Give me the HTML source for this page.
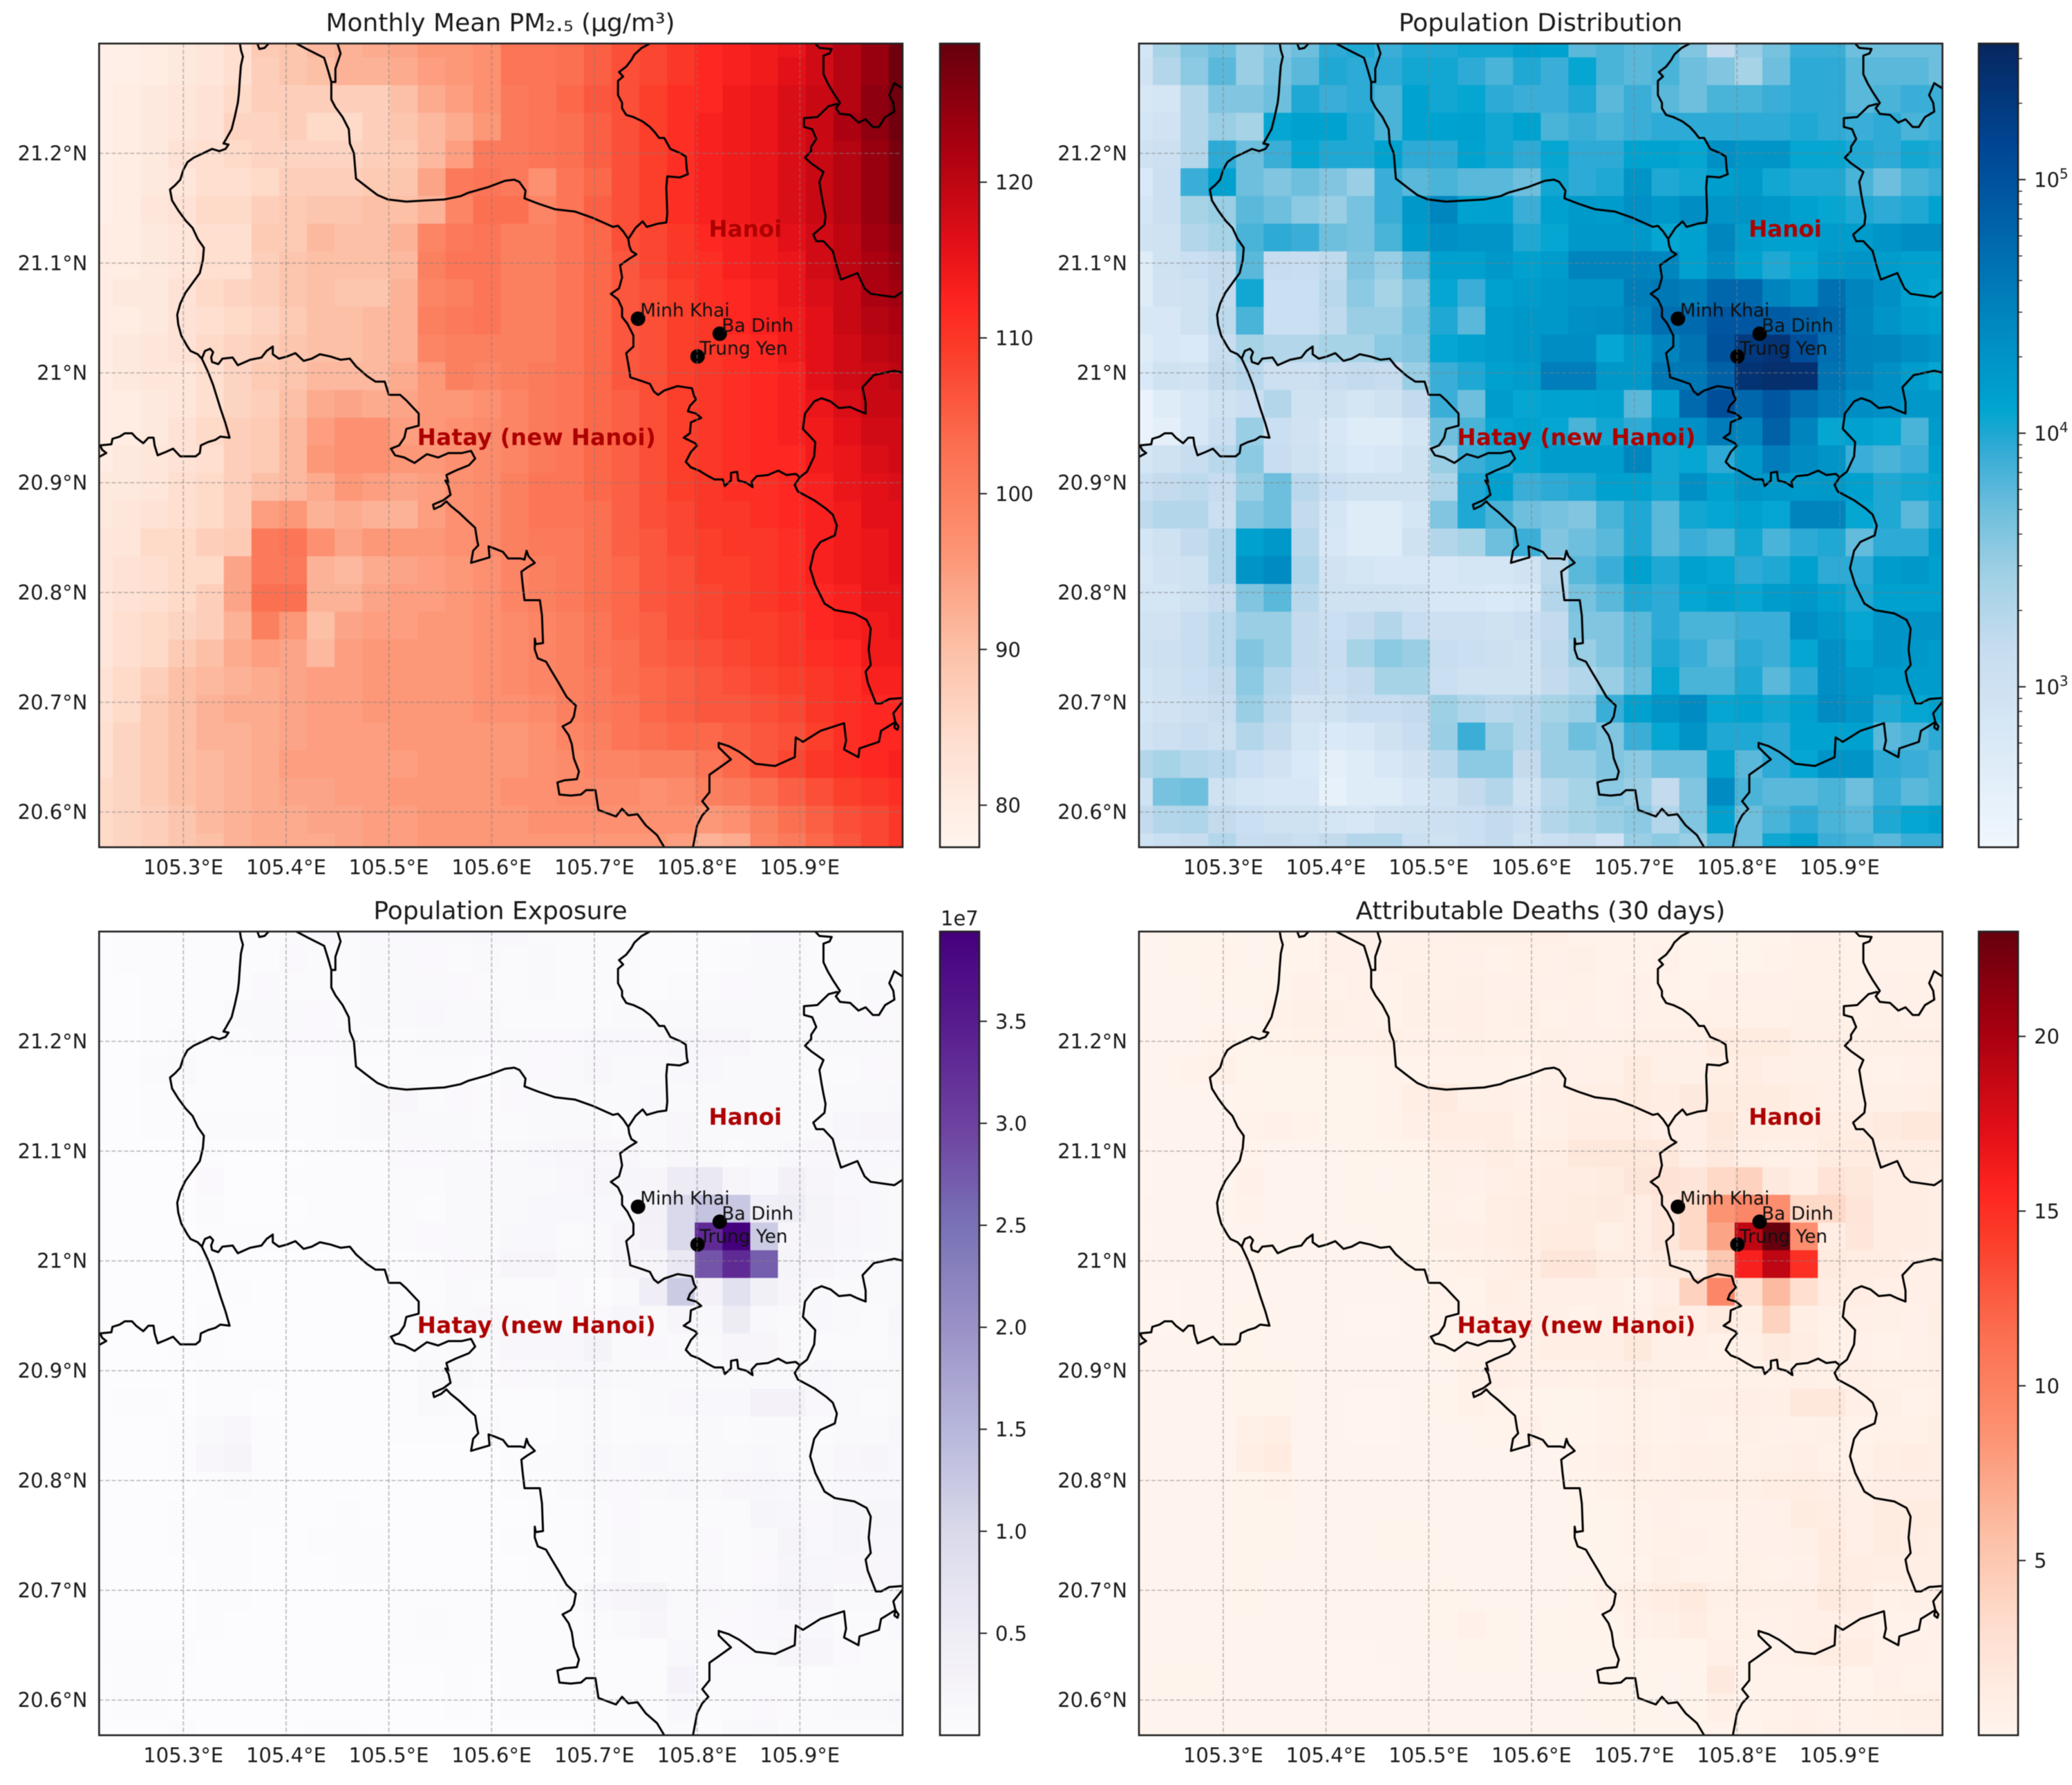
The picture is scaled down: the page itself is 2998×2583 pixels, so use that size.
<!DOCTYPE html>
<html lang="en">
<head>
<meta charset="utf-8">
<title>PM2.5, population, exposure and attributable deaths maps</title>
<style>
html,body{margin:0;padding:0;background:#fff;width:2998px;height:2583px;overflow:hidden}
svg{display:block;filter:blur(.6px)}
text{font-family:"DejaVu Sans","Liberation Sans",sans-serif;fill:#1a1a1a}
.title{font-size:36px;text-anchor:middle}
.tick{font-size:29px}
</style>
</head>
<body>
<svg id="figure" xmlns="http://www.w3.org/2000/svg" width="2998" height="2583" viewBox="0 0 2998 2583">
  <rect x="0" y="0" width="2998" height="2583" fill="#fff"/>
  <g id="panel-pm">
    <text class="title" x="724" y="45">Monthly Mean PM₂.₅ (μg/m³)</text>
  </g>
  <g id="panel-pop">
    <text class="title" x="2229" y="45">Population Distribution</text>
  </g>
  <g id="panel-exp">
    <text class="title" x="724" y="1330">Population Exposure</text>
    <text class="tick" x="1361" y="1339">1e7</text>
  </g>
  <g id="panel-dea">
    <text class="title" x="2229" y="1330">Attributable Deaths (30 days)</text>
  </g>
</svg>
<script>
// ---------- monthly mean PM2.5 (ug/m3), rows north to south, columns west to east ----------
const pmGrid = [
[79,79,80,81,82,84,88,89,91,92,93,94,96,96,97,102,102,103,105,107,108,110,112,113,114,115,118,121,124,128],
[79,79,80,81,82,84,87,89,90,92,92,93,95,96,97,102,102,103,105,107,108,110,112,113,114,116,118,121,124,128],
[79,80,81,82,83,85,87,87,87,87,87,90,93,95,97,101,102,104,106,107,109,111,112,114,115,117,119,121,125,128],
[79,80,81,82,83,86,86,87,85,85,87,89,91,93,96,101,102,103,105,107,109,111,113,114,115,117,119,122,125,128],
[79,80,81,83,84,85,86,86,86,86,87,88,91,95,101,101,102,103,105,107,109,111,113,114,115,117,119,121,124,127],
[79,80,81,82,84,84,85,87,87,87,88,89,94,101,102,101,97,102,104,107,109,111,113,114,115,117,119,121,124,127],
[79,80,82,83,85,85,87,88,89,89,90,90,92,99,103,103,99,102,105,107,109,111,113,114,115,117,119,121,124,127],
[80,80,81,82,84,84,88,88,91,90,90,92,99,101,102,100,100,102,104,107,108,110,112,113,114,116,118,120,123,125],
[80,80,81,82,84,84,87,89,90,90,90,91,100,102,102,100,100,102,104,106,108,110,111,113,114,115,118,120,122,124],
[80,81,81,83,85,86,87,89,90,89,89,92,99,100,102,100,100,102,104,106,107,109,111,112,113,115,117,119,122,123],
[80,80,81,83,84,85,86,88,90,90,91,92,100,101,102,100,100,102,104,106,107,109,110,112,113,114,116,119,121,122],
[80,81,82,83,85,86,87,89,90,90,91,92,99,100,100,100,100,102,104,106,107,109,110,111,112,114,116,118,120,121],
[80,81,82,82,84,86,88,89,91,91,91,93,96,100,99,100,101,102,104,106,107,109,110,111,112,113,116,118,119,120],
[80,80,81,82,84,86,87,90,93,94,93,94,96,96,97,99,101,102,104,105,107,109,110,111,112,113,115,117,119,119],
[80,80,81,83,85,87,88,91,95,97,97,95,96,97,98,99,101,102,104,105,107,109,110,111,112,113,114,116,118,118],
[80,81,82,83,84,87,88,91,96,97,97,96,96,97,98,99,101,102,104,105,107,109,110,111,112,112,114,115,117,118],
[81,81,82,84,85,87,90,91,93,96,95,94,95,97,98,100,102,102,104,105,107,109,110,111,111,112,113,115,116,117],
[81,82,83,84,85,87,95,96,92,93,92,92,95,97,98,100,102,102,103,105,107,108,110,110,111,112,113,114,116,116],
[82,82,85,85,87,88,101,102,97,94,96,96,96,97,98,100,101,101,103,105,106,108,109,110,110,111,113,114,115,116],
[82,83,84,85,85,94,101,101,92,91,93,94,95,96,97,99,100,101,103,104,106,107,109,109,110,111,113,114,115,116],
[82,83,84,85,87,94,103,103,92,92,94,95,95,96,97,99,100,101,103,104,106,107,108,109,110,111,112,113,115,115],
[82,84,85,86,87,92,100,96,90,94,95,95,96,96,97,98,99,100,102,104,105,107,108,109,109,110,112,113,114,115],
[82,84,85,88,90,93,95,94,91,95,96,96,96,96,97,98,99,100,102,103,105,106,107,108,109,110,111,112,114,114],
[83,85,87,90,91,92,93,94,95,95,96,96,96,96,97,98,99,100,101,103,104,105,106,107,108,109,110,111,113,113],
[83,85,88,90,92,93,93,94,95,95,96,96,96,96,97,97,98,100,101,102,104,105,106,106,107,108,110,111,112,112],
[84,86,88,90,92,92,93,94,95,95,95,96,96,96,96,96,97,99,100,102,103,104,104,105,106,107,109,111,112,112],
[84,86,88,90,91,92,93,95,95,95,95,95,96,96,96,96,97,98,99,99,100,100,102,104,106,108,110,111,112,113],
[85,86,88,90,91,92,93,94,94,95,95,96,96,96,96,97,97,98,98,98,97,98,100,101,103,105,107,109,110,111],
[85,86,87,89,91,92,93,93,94,94,95,95,96,96,96,96,97,97,97,97,97,97,96,97,100,103,105,107,108,110],
[85,86,87,89,90,92,93,93,93,94,95,95,96,96,96,96,96,96,96,96,96,95,92,93,99,101,104,106,108,110]
];
// ---------- population per cell, thousands ----------
const popGrid = [
[.8,2.5,4,5,3,4,5,9,10,8,10,10,11,11,14,13,6,7,6,7,4,1.5,3,4.5,8,8,5,5,5,5],
[.9,2,3.5,6,3,4.5,6,10,9,9,11,11,9,7,10,8,12,7,6,7,5,4,2.5,5,9,9,6,6,6,5],
[.7,.8,2,4,4,5,10,8,9,7,13,11,12,9,8,8,10,6,8,6,5,7,7,8,9,9,6,7,8,8],
[.8,.9,2,3,2.5,12,14,13,10,7,13,13,14,11,13,7,8,7,8,9,9,9,9,9,10,9,8,9,7,8],
[1,1.1,2,9,5,8,12,10,10,13,9,9,13,11,9,12,9,9,13,13,12,22,19,20,12,12,10,9,11,10],
[.6,1.2,8,14,5,4,5,4,3,8,6,7,6,6,5,11,9,10,20,10,11,15,17,11,10,10,7,5,7,8],
[.8,1.2,2.5,3,6,5,3.5,3,4.5,8,18,28,13,14,8,14,17,16,22,18,24,20,20,18,14,12,10,9,10,13],
[.9,1,2,2.5,7,9,8,5,4.5,7,16,22,20,20,10,12,18,18,18,12,14,28,16,14,14,16,16,20,24,24],
[.5,1,1.2,1.5,6,1.4,1.3,1.6,4,3,6,14,14,18,14,16,30,30,30,28,14,24,14,10,12,18,20,16,14,14],
[.5,.9,1,1.5,11,1.2,1.2,1.8,3.5,2.5,4,12,8,14,16,18,20,20,34,40,34,60,60,30,22,48,30,22,14,12],
[.7,.7,1,1.7,7,1.2,1.2,1.6,3,3,4.5,10,6,16,18,18,22,24,30,50,55,90,90,80,70,60,28,20,16,14],
[.5,.7,.6,1.3,2.5,2,2,2.5,2.5,3.5,4,12,14,16,18,24,24,12,18,30,45,100,200,230,110,50,30,28,24,20],
[.6,1,.9,1.5,1.8,1.1,1.1,1.3,1.5,1.4,3,8,10,14,16,35,35,18,18,40,40,70,240,270,260,45,30,22,16,12],
[.3,.5,.7,1,1.2,2,1,1,.8,1,1.5,8,5,16,12,13,13,14,6,14,55,110,60,90,50,35,24,22,18,18],
[.3,.4,.7,1.2,3,1.2,.9,.7,.5,.5,.8,5,7,12,13,12,7,11,9,20,22,35,30,70,30,12,14,12,7,16],
[.8,1,1.3,1.8,3.5,1.3,1,.8,.6,.7,1,3,8,10,12,16,16,16,28,11,12,9,18,35,25,20,8,7,8,14],
[1.2,1.5,1.7,1.4,3,5,1.8,1.2,1,1,1,2.2,10,14,8,9,10,14,14,11,22,14,20,18,17,18,14,10,11,12],
[1.6,2,2,1.2,4,5,1.5,.8,.5,.5,.8,4,10,7,5,4.5,4,7,10,6,11,12,14,12,30,30,12,10,6,10],
[.8,1,1.5,2,14,18,1.8,.7,.5,.5,1,2,2.5,5,8,4,5,6,10,6,8,7,11,7,9,10,5.5,9,9,16],
[.7,.9,1,2,20,25,2.2,.9,.8,.7,.7,.7,.8,.8,.9,1.8,6,8,14,10,14,12,9,10,14,9,9,16,18,14],
[.8,.8,1,1.4,4,6,1.8,1,1,1,.9,.7,.7,.6,.7,2,4.5,6,10,9,12,14,12,16,18,14,10,14,14,14],
[.9,.9,1.3,1.8,3,3,1.5,1.2,1.5,2,1.3,1.1,1.1,1,1.2,1.5,4,4,6,9,7,7,8,8,22,18,12,20,20,20],
[1,1.1,1.3,1.8,4,3,1.5,1.3,2.5,3.5,3,1.3,1.2,1.1,1,1.6,3,4,6,10,8,6,9,8,12,22,13,20,18,16],
[.8,1,1.2,1.5,3.5,2,1.4,1.2,1.5,2.5,2.5,1.2,1,1,1,1.5,2,3,5,12,7,7,10,6,9,22,18,16,16,16],
[.8,.9,1.1,1.3,3,1.8,.9,1,1.3,1.3,1.5,2.8,2.2,1.8,2,2.5,3,8,14,20,25,12,13,11,14,25,20,10,12,14],
[.9,1.1,1.3,1.1,2,1.5,.8,.6,.7,1,1.3,3,8,3,2,3,5,4,8,12,20,10,10,9,13,13,14,6,7,9],
[2,2.5,2,1.8,1.2,.9,.6,.4,.5,.7,.9,1.8,3.5,3.5,1.5,3,3,4,3.5,5,5,14,6,9,12,20,20,9,8,7],
[1,4.5,5,1,.8,.7,.7,.35,.5,.5,.7,1,1.5,2,1,1.8,2.5,3.5,3,1.5,4,25,7,6,6,7,5,8,6,7],
[1.5,2,2.2,1.5,1.2,1,1,.8,.7,.9,1,1.1,1.2,1.5,1.2,2,2.5,3,3.5,2,4,14,5,7,9,7,6,10,12,14],
[1,1.2,1.4,2,1.3,1.4,1.2,1.5,2,2,1.2,1,1.2,1.5,1,1.2,1.5,.9,3,3.5,3,6,5,11,14,8,7,6,8,8]
];
// ---------- population exposure per cell, units of 1e5 ----------
const exposureGrid = [
[1,2,3,4,2,3,4,8,9,7,9,9,11,11,14,13,6,7,6,7,4,2,3,5,9,9,6,6,6,6],
[1,2,3,5,2,4,5,9,8,8,10,10,9,7,10,8,12,7,6,8,5,4,3,6,10,10,7,7,7,6],
[1,1,2,3,3,4,9,7,8,6,11,10,11,9,8,8,10,6,8,6,5,8,8,9,10,10,7,8,10,10],
[1,1,2,2,2,10,12,11,9,6,11,12,13,10,12,7,8,7,8,10,10,10,10,10,11,11,10,11,9,10],
[1,1,2,7,4,7,10,9,9,11,8,8,12,10,9,12,9,9,14,14,13,18,16,16,12,12,11,10,12,12],
[1,1,6,11,4,3,4,3,3,7,5,6,6,6,5,11,9,10,16,10,11,14,15,12,11,11,8,6,9,10],
[1,1,2,2,5,4,3,3,4,7,12,16,8,9,6,9,10,10,12,10,14,12,12,12,10,10,10,10,12,15],
[1,1,2,2,6,8,7,4,4,6,10,12,12,12,7,8,10,10,10,8,10,16,12,10,10,12,12,18,20,20],
[0,1,1,1,5,1,1,1,4,3,5,9,9,11,9,10,15,16,16,16,10,16,10,8,10,14,16,15,14,14],
[0,1,1,1,9,1,1,2,3,2,4,8,6,10,11,12,12,13,20,22,20,55,60,20,15,35,20,15,14,12],
[1,1,1,1,6,1,1,1,3,3,4,7,5,10,12,12,14,15,14,15,35,100,130,125,45,50,25,16,14,12],
[0,1,1,1,2,2,2,2,2,3,4,8,9,10,12,15,15,8,12,20,30,100,330,394,120,20,25,18,14,12],
[1,1,1,1,2,1,1,1,1,1,3,5,7,9,10,20,20,11,12,20,20,60,280,330,270,25,20,14,10,9],
[0,0,1,1,1,2,1,1,1,1,1,5,4,10,8,8,8,9,5,10,50,120,30,80,40,20,14,10,10,10],
[0,0,1,1,3,1,1,1,0,0,1,5,7,12,13,12,7,11,9,21,10,20,15,55,15,10,14,12,8,16],
[1,1,1,2,3,1,1,1,1,1,1,3,8,10,12,16,16,16,29,12,13,10,10,20,20,10,8,7,8,14],
[1,1,1,1,3,4,2,1,1,1,1,2,10,14,8,9,10,14,15,12,10,10,10,10,12,10,14,10,10,12],
[1,2,2,1,3,4,1,1,0,0,1,4,10,7,5,4,4,7,10,6,12,13,15,14,32,32,13,11,7,10],
[1,1,1,2,12,16,2,1,0,0,1,2,2,5,8,4,5,6,10,6,8,7,12,8,10,11,6,10,10,16],
[1,1,1,2,17,24,2,1,1,1,1,1,1,1,1,2,6,8,14,10,14,12,10,11,15,10,10,17,20,15],
[1,1,1,1,3,6,2,1,1,1,1,1,1,1,1,2,5,6,10,9,12,14,12,16,19,15,11,15,15,15],
[1,1,1,2,3,3,2,1,1,2,1,1,1,1,1,1,4,4,6,9,7,7,8,8,22,19,13,21,22,22],
[1,1,1,2,4,3,1,1,2,3,3,1,1,1,1,2,3,4,6,10,8,6,9,8,12,23,14,21,19,17],
[1,1,1,1,3,2,1,1,1,2,2,1,1,1,1,1,2,3,5,12,7,7,10,6,9,22,18,16,16,16],
[1,1,1,1,3,2,1,1,1,1,1,3,2,2,2,2,3,8,14,20,25,12,13,11,14,25,20,10,12,14],
[1,1,1,1,2,1,1,1,1,1,1,3,8,3,2,3,5,4,8,12,20,10,10,9,13,13,14,6,7,9],
[2,2,2,2,1,1,1,0,0,1,1,2,3,3,2,3,3,4,4,5,5,14,6,9,12,20,20,9,8,7],
[1,4,4,1,1,1,1,0,0,0,1,1,1,2,1,2,2,4,3,2,4,27,7,6,6,7,5,8,6,7],
[1,2,2,1,1,1,1,1,1,1,1,1,1,2,1,2,2,3,3,2,4,14,5,7,9,7,6,10,12,14],
[1,1,1,2,1,1,1,1,2,2,1,1,1,1,1,1,1,1,3,3,3,6,5,11,14,8,7,6,8,8]
];
// ---------- attributable deaths per cell ----------
const deathsGrid = [
[.1,.1,.2,.2,.1,.2,.2,.5,.5,.4,.5,.5,.7,.7,.8,.8,.4,.4,.4,.4,.2,.1,.2,.3,.5,.5,.4,.4,.4,.4],
[.1,.1,.2,.3,.1,.2,.3,.5,.5,.5,.6,.6,.5,.4,.6,.5,.7,.4,.4,.5,.3,.2,.2,.4,.6,.6,.4,.4,.4,.4],
[.1,.1,.1,.2,.2,.2,.5,.4,.5,.4,.7,.6,.7,.5,.5,.5,.6,.4,.5,.4,.3,.5,.5,.5,.6,.6,.4,.5,.6,.6],
[.1,.1,.1,.1,.1,.6,.7,.7,.5,.4,.7,.7,.8,.6,.7,.4,.5,.4,.5,.6,.6,.6,.6,.6,.7,.7,.6,.7,.5,.6],
[.1,.1,.1,.4,.2,.4,.6,.5,.5,.7,.5,.5,.7,.6,.5,.7,.5,.5,.8,.8,.8,1.4,1.3,1.3,.8,.8,.7,.7,.8,.8],
[.1,.1,.4,.7,.2,.2,.2,.2,.2,.4,.3,.4,.4,.4,.3,.7,.5,.6,1.3,.7,.7,1,1.1,.8,.7,.7,.5,.4,.5,.6],
[.1,.1,.1,.1,.3,.2,.2,.2,.2,.4,1,1.5,.7,.8,.5,.8,1,1,1.4,1.1,1.6,1.3,1.3,1.3,1,.8,.7,.7,.8,1],
[.1,.1,.1,.1,.4,.5,.4,.2,.2,.4,.8,1.2,1.2,1.2,.6,.7,1.1,1.1,1.1,.8,.9,1.9,1.1,1,1,1.1,1.1,1.5,1.8,1.8],
[0,.1,.1,.1,.3,.1,.1,.1,.2,.2,.3,.8,.8,1.1,.8,1,1.8,1.9,1.9,1.8,.9,1.6,1,.7,.8,1.3,1.4,1.2,1.1,1.1],
[0,.1,.1,.1,.5,.1,.1,.1,.2,.1,.2,.7,.5,.8,1,1.1,1.2,1.3,2.2,2.6,2.2,3.5,4,1.6,1,2.5,1.8,1.1,1.1,.9],
[.1,.1,.1,.1,.4,.1,.1,.1,.2,.2,.2,.5,.4,1,1.1,1.1,1.3,1.5,1.2,2,3.5,8.5,9.5,9,3.5,3.5,2.2,1.2,1.1,.9],
[0,.1,.1,.1,.1,.1,.1,.1,.1,.2,.2,.7,.8,1,1.1,1.4,1.4,.7,1.1,2,3.5,7.5,19,23,9,1.2,2,1.2,1.1,.9],
[.1,.1,.1,.1,.1,.1,.1,.1,.1,.1,.2,.4,.6,.8,1,2.1,2.1,1.1,1.1,1.5,1.5,5,16,19,15,1.5,1.2,1.1,.8,.7],
[0,0,.1,.1,.1,.1,.1,.1,.1,.1,.1,.4,.3,1,.7,.8,.8,.8,.4,.9,4,9.5,3,6,3,1.2,1.1,.8,.8,.8],
[0,0,.1,.1,.2,.1,.1,.1,0,0,.1,.3,.4,.7,.8,.7,.4,.7,.5,1.3,.9,1.5,1,4,1,.6,.8,.7,.5,1],
[.1,.1,.1,.1,.2,.1,.1,.1,.1,.1,.1,.2,.5,.6,.7,1,1,1,1.7,.7,.8,.6,.7,1.5,1.2,.6,.5,.4,.5,.8],
[.1,.1,.1,.1,.2,.2,.1,.1,.1,.1,.1,.1,.6,.8,.5,.5,.6,.8,.9,.7,.6,.6,.6,.6,.7,.6,.8,.6,.6,.7],
[.1,.1,.1,.1,.2,.2,.1,.1,0,0,.1,.2,.6,.4,.3,.2,.2,.4,.6,.4,.7,.8,.9,.8,1.9,1.9,.8,.7,.4,.6],
[.1,.1,.1,.1,.7,1,.1,.1,0,0,.1,.1,.1,.3,.5,.2,.3,.4,.6,.4,.5,.4,.7,.5,.6,.7,.4,.6,.6,1],
[.1,.1,.1,.1,1,1.4,.1,.1,.1,.1,.1,.1,.1,.1,.1,.1,.4,.5,.8,.6,.8,.7,.6,.7,.9,.6,.6,1,1.2,.9],
[.1,.1,.1,.1,.2,.4,.1,.1,.1,.1,.1,.1,.1,.1,.1,.1,.3,.4,.6,.5,.7,.8,.7,1,1.1,.9,.7,.9,.9,.9],
[.1,.1,.1,.1,.2,.2,.1,.1,.1,.1,.1,.1,.1,.1,.1,.1,.2,.2,.4,.5,.4,.4,.5,.5,1.3,1.1,.8,1.3,1.3,1.3],
[.1,.1,.1,.1,.2,.2,.1,.1,.1,.2,.2,.1,.1,.1,.1,.1,.2,.2,.4,.6,.5,.4,.5,.5,.7,1.4,.8,1.3,1.1,1],
[.1,.1,.1,.1,.2,.1,.1,.1,.1,.1,.1,.1,.1,.1,.1,.1,.1,.2,.3,.7,.4,.4,.6,.4,.5,1.3,1.1,1,1,1],
[.1,.1,.1,.1,.2,.1,.1,.1,.1,.1,.1,.2,.1,.1,.1,.1,.2,.5,.8,1.2,1.5,.7,.8,.7,.8,1.5,1.2,.6,.7,.8],
[.1,.1,.1,.1,.1,.1,.1,.1,.1,.1,.1,.2,.5,.2,.1,.2,.3,.2,.5,.7,1.2,.6,.6,.5,.8,.8,.8,.4,.4,.5],
[.1,.1,.1,.1,.1,.1,.1,0,0,.1,.1,.1,.2,.2,.1,.2,.2,.2,.2,.3,.3,.8,.4,.5,.7,1.2,1.2,.5,.5,.4],
[.1,.2,.2,.1,.1,.1,.1,0,0,0,.1,.1,.1,.1,.1,.1,.1,.2,.2,.1,.2,1.6,.4,.4,.4,.4,.3,.5,.4,.4],
[.1,.1,.1,.1,.1,.1,.1,.1,.1,.1,.1,.1,.1,.1,.1,.1,.1,.2,.2,.1,.2,.8,.3,.4,.5,.4,.4,.6,.7,.8],
[.1,.1,.1,.1,.1,.1,.1,.1,.1,.1,.1,.1,.1,.1,.1,.1,.1,.1,.2,.2,.2,.3,.3,.6,.8,.5,.4,.4,.5,.5]
];

// ---------- axis ticks and labels ----------
const lonTicks = [105.3,105.4,105.5,105.6,105.7,105.8,105.9];
const latTicks = [21.2,21.1,21.0,20.9,20.8,20.7,20.6];
const latTickLabels = ['21.2°N','21.1°N','21°N','20.9°N','20.8°N','20.7°N','20.6°N'];
const pmColorTicks = [80,90,100,110,120];
const popMajorTicks = [1000,10000,100000];
const popMajorExponents = ['3','4','5'];
const popMinorTicks = [300,400,500,600,700,800,900,2000,3000,4000,5000,6000,7000,8000,9000,20000,30000,40000,50000,60000,70000,80000,90000,200000,300000];
const expColorTicks = [50,100,150,200,250,300,350];
const expColorLabels = ['0.5','1.0','1.5','2.0','2.5','3.0','3.5'];
const deathColorTicks = [5,10,15,20];

// ---------- place names ----------
const stationNames = ['Minh Khai','Ba Dinh','Trung Yen'];
const stationLons = [105.7425,105.822,105.8004];
const stationLats = [21.0494,21.0357,21.015];
const regionNames = ['Hanoi','Hatay (new Hanoi)'];
const regionLons = [105.8113,105.5277];
const regionLats = [21.124,20.9344];

// ---------- administrative boundaries, [lon, lat] ----------
const boundaries = [
[[105.355,21.300],[105.356,21.294],[105.358,21.288],[105.356,21.280],[105.355,21.268],[105.354,21.254],[105.353,21.246],[105.350,21.233],[105.347,21.222],[105.341,21.212],[105.339,21.209],[105.344,21.208],[105.341,21.204],[105.335,21.202],[105.328,21.204],[105.319,21.200],[105.310,21.196],[105.304,21.192],[105.300,21.185],[105.297,21.176],[105.292,21.171],[105.287,21.167],[105.289,21.157],[105.295,21.148],[105.302,21.139],[105.309,21.132],[105.314,21.122],[105.320,21.114],[105.319,21.103],[105.316,21.091],[105.309,21.082],[105.302,21.073],[105.297,21.063],[105.294,21.053],[105.295,21.044],[105.298,21.034],[105.304,21.024],[105.307,21.020],[105.314,21.017],[105.318,21.013],[105.324,21.001],[105.329,20.989],[105.336,20.968],[105.341,20.954],[105.345,20.941],[105.336,20.942],[105.331,20.939],[105.324,20.937],[105.317,20.934],[105.316,20.927],[105.312,20.924],[105.297,20.924],[105.290,20.931],[105.283,20.928],[105.275,20.925],[105.272,20.934],[105.271,20.941],[105.266,20.941],[105.261,20.936],[105.254,20.941],[105.250,20.945],[105.243,20.945],[105.238,20.942],[105.231,20.940],[105.230,20.935],[105.219,20.934],[105.221,20.930],[105.225,20.927],[105.219,20.924]],
[[105.318,21.013],[105.321,21.020],[105.326,21.022],[105.329,21.019],[105.327,21.014],[105.328,21.010],[105.334,21.008],[105.338,21.013],[105.348,21.014],[105.353,21.007],[105.365,21.012],[105.376,21.014],[105.381,21.020],[105.387,21.024],[105.387,21.017],[105.393,21.013],[105.401,21.015],[105.409,21.018],[105.417,21.011],[105.425,21.013],[105.433,21.017],[105.443,21.015],[105.453,21.012],[105.462,21.013],[105.468,21.006],[105.479,20.997],[105.487,20.992],[105.496,20.992],[105.500,20.980],[105.511,20.980],[105.517,20.975],[105.523,20.969],[105.529,20.963],[105.529,20.952],[105.517,20.949],[105.515,20.941],[105.510,20.934],[105.502,20.931],[105.506,20.925],[105.515,20.923],[105.525,20.918],[105.537,20.926],[105.548,20.923],[105.558,20.927],[105.571,20.927],[105.580,20.929],[105.584,20.922],[105.578,20.916],[105.565,20.911],[105.556,20.907],[105.558,20.900],[105.555,20.902],[105.558,20.897],[105.560,20.889],[105.553,20.884],[105.543,20.880],[105.544,20.876],[105.551,20.879],[105.556,20.883],[105.560,20.879],[105.568,20.873],[105.577,20.865],[105.584,20.859],[105.586,20.847],[105.587,20.843],[105.582,20.838],[105.580,20.827],[105.587,20.829],[105.598,20.832],[105.597,20.842],[105.603,20.840],[105.611,20.837],[105.616,20.831],[105.628,20.831],[105.632,20.830],[105.634,20.838],[105.636,20.833],[105.642,20.827],[105.635,20.823],[105.629,20.819],[105.630,20.809],[105.632,20.793],[105.647,20.793],[105.649,20.779],[105.650,20.754],[105.643,20.753],[105.642,20.758],[105.642,20.748],[105.645,20.740],[105.653,20.737],[105.658,20.729],[105.665,20.718],[105.673,20.705],[105.682,20.697],[105.680,20.687],[105.677,20.682],[105.669,20.678],[105.675,20.670],[105.678,20.662],[105.680,20.649],[105.685,20.637],[105.683,20.630],[105.671,20.629],[105.664,20.627],[105.666,20.616],[105.677,20.615],[105.687,20.616],[105.692,20.620],[105.701,20.620],[105.704,20.602],[105.721,20.596],[105.727,20.603],[105.733,20.597],[105.742,20.598],[105.750,20.588],[105.761,20.579],[105.768,20.568]],
[[105.754,21.300],[105.746,21.296],[105.739,21.290],[105.736,21.285],[105.731,21.279],[105.724,21.274],[105.728,21.270],[105.723,21.266],[105.723,21.253],[105.727,21.246],[105.727,21.241],[105.731,21.235],[105.738,21.233],[105.747,21.229],[105.754,21.224],[105.759,21.219],[105.763,21.214],[105.768,21.214],[105.774,21.204],[105.784,21.200],[105.789,21.197],[105.790,21.185],[105.791,21.181],[105.783,21.178],[105.771,21.179],[105.770,21.169],[105.771,21.145],[105.770,21.137],[105.762,21.136],[105.751,21.133],[105.747,21.138],[105.740,21.132],[105.733,21.122]],
[[105.410,21.300],[105.420,21.295],[105.437,21.287],[105.441,21.275],[105.444,21.265],[105.448,21.265],[105.448,21.277],[105.453,21.291],[105.450,21.300]],
[[105.444,21.265],[105.444,21.249],[105.448,21.242],[105.455,21.233],[105.461,21.222],[105.462,21.209],[105.466,21.200],[105.468,21.177],[105.479,21.169],[105.489,21.162],[105.499,21.158],[105.517,21.156],[105.534,21.157],[105.554,21.158],[105.570,21.161],[105.577,21.164],[105.596,21.169],[105.613,21.175],[105.622,21.176],[105.627,21.174],[105.633,21.166],[105.632,21.159],[105.646,21.154],[105.662,21.149],[105.681,21.147],[105.699,21.141],[105.718,21.133],[105.723,21.134],[105.728,21.129],[105.733,21.122]],
[[105.733,21.122],[105.734,21.116],[105.736,21.111],[105.741,21.108],[105.734,21.104],[105.725,21.098],[105.727,21.087],[105.724,21.077],[105.716,21.072],[105.723,21.067],[105.727,21.059],[105.727,21.051],[105.732,21.045],[105.738,21.034],[105.738,21.024],[105.731,21.018],[105.734,21.003],[105.735,20.996],[105.745,20.993],[105.754,20.990],[105.758,20.983],[105.762,20.980],[105.768,20.984],[105.781,20.988],[105.788,20.987],[105.795,20.986],[105.797,20.979],[105.799,20.976],[105.793,20.970],[105.791,20.965],[105.799,20.963],[105.804,20.959],[105.794,20.955],[105.793,20.945],[105.787,20.941],[105.798,20.936],[105.800,20.934],[105.794,20.928],[105.789,20.919],[105.794,20.914],[105.802,20.911],[105.809,20.907],[105.817,20.903],[105.825,20.903],[105.827,20.897],[105.833,20.902],[105.833,20.909],[105.839,20.910],[105.840,20.902],[105.848,20.900],[105.854,20.896],[105.853,20.901],[105.858,20.906],[105.869,20.907],[105.879,20.911],[105.887,20.907],[105.896,20.908],[105.900,20.905]],
[[105.900,20.905],[105.895,20.898],[105.898,20.892],[105.914,20.884],[105.926,20.876],[105.932,20.871],[105.936,20.861],[105.934,20.852],[105.920,20.846],[105.914,20.838],[105.910,20.822],[105.915,20.807],[105.924,20.790],[105.934,20.784],[105.953,20.781],[105.965,20.775],[105.969,20.767],[105.967,20.748],[105.969,20.734],[105.964,20.728],[105.966,20.718],[105.974,20.699],[105.979,20.699],[105.987,20.703],[106.001,20.704]],
[[105.900,20.905],[105.907,20.910],[105.914,20.924],[105.915,20.937],[105.909,20.943],[105.903,20.949],[105.905,20.963],[105.914,20.974],[105.921,20.977],[105.930,20.974],[105.938,20.968],[105.949,20.969],[105.956,20.966],[105.964,20.963],[105.964,20.973],[105.961,20.987],[105.972,20.998],[105.982,21.000],[105.992,21.002],[106.001,21.000]],
[[105.915,21.300],[105.919,21.296],[105.931,21.295],[105.929,21.291],[105.923,21.289],[105.923,21.272],[105.927,21.264],[105.932,21.256],[105.939,21.246],[105.935,21.241],[105.939,21.236],[105.949,21.235],[105.957,21.228],[105.964,21.231],[105.971,21.224],[105.977,21.224],[105.983,21.233],[105.992,21.238],[105.991,21.246],[105.987,21.253],[105.992,21.264],[106.000,21.259]],
[[105.936,21.245],[105.928,21.243],[105.917,21.233],[105.904,21.232],[105.904,21.224],[105.912,21.222],[105.916,21.213],[105.911,21.206],[105.911,21.202],[105.905,21.196],[105.911,21.191],[105.923,21.183],[105.919,21.174],[105.921,21.162],[105.923,21.152],[105.925,21.143],[105.924,21.135],[105.913,21.126],[105.916,21.120],[105.923,21.120],[105.932,21.111],[105.936,21.097],[105.940,21.085],[105.956,21.091],[105.963,21.077],[105.969,21.072],[105.992,21.069],[106.000,21.074]],
[[106.001,20.702],[105.997,20.697],[105.991,20.690],[105.993,20.682],[105.979,20.674],[105.977,20.664],[105.958,20.658],[105.957,20.650],[105.943,20.657],[105.945,20.665],[105.943,20.681],[105.920,20.674],[105.903,20.664],[105.896,20.668],[105.895,20.650],[105.876,20.642],[105.857,20.644],[105.841,20.655],[105.831,20.660],[105.821,20.663],[105.821,20.659],[105.833,20.648],[105.821,20.640],[105.812,20.634],[105.812,20.618],[105.805,20.610],[105.811,20.603],[105.805,20.597],[105.800,20.588],[105.796,20.568]],
[[105.372,21.300],[105.374,21.295],[105.379,21.296],[105.383,21.300]],
[[105.993,20.682],[105.996,20.678],[105.995,20.675],[105.992,20.677],[105.993,20.682]],
[[106.000,21.009],[106.000,21.000]]
];

// ---------- colormaps ----------
const redsStops = [[0,'#fff5ee'],[.125,'#fee0d2'],[.25,'#fcbfa5'],[.375,'#fc9272'],[.5,'#fb6f50'],[.625,'#fb3a28'],[.68,'#fe2420'],[.75,'#e31018'],[.875,'#a80010'],[1,'#67000d']];
const bluesStops = [[0,'#f0f7fd'],[.125,'#dbeaf7'],[.25,'#c6dcef'],[.33,'#a5d2e6'],[.42,'#6ebfdd'],[.5,'#2eaad5'],[.545,'#00a5d0'],[.625,'#0090c5'],[.75,'#006aae'],[.875,'#004594'],[1,'#07275f']];
const purplesStops = [[0,'#fcfbfd'],[.125,'#efedf5'],[.25,'#dadaeb'],[.375,'#b8b8dc'],[.5,'#9c94c8'],[.63,'#7a74b8'],[.75,'#6f45a2'],[.875,'#5a1f90'],[1,'#45007d']];

const NS = 'http://www.w3.org/2000/svg';
const lonMin = 105.218, lonMax = 106.0, latMin = 20.568, latMax = 21.3;
const panelW = 1162.6, panelH = 1163, cbW = 57;

function mk(tag, attrs, parent){
  const e = document.createElementNS(NS, tag);
  for (const k in attrs) e.setAttribute(k, attrs[k]);
  parent.appendChild(e);
  return e;
}
function hexRgb(h){ return [parseInt(h.slice(1,3),16),parseInt(h.slice(3,5),16),parseInt(h.slice(5,7),16)]; }
function cmap(stops, t){
  t = Math.max(0, Math.min(1, t));
  for (let i = 1; i < stops.length; i++){
    if (t <= stops[i][0]){
      const a = stops[i-1], b = stops[i], f = (t-a[0])/(b[0]-a[0]);
      const A = hexRgb(a[1]), B = hexRgb(b[1]);
      return 'rgb(' + A.map((v,k)=>Math.round(v+(B[k]-v)*f)).join(',') + ')';
    }
  }
  return stops[stops.length-1][1];
}
function linearNorm(a,b){ return v => (v-a)/(b-a); }
function logNorm(a,b){ const la=Math.log10(a), lb=Math.log10(b); return v => (Math.log10(v)-la)/(lb-la); }

const panelDefs = [
  {key:'pm',  id:'panel-pm',  x0:143.4, y0:63,   cbX:1360, grid:pmGrid, unit:1, stops:redsStops, norm:linearNorm(77.3,128.9), ticks:pmColorTicks, labels:pmColorTicks.map(String)},
  {key:'pop', id:'panel-pop', x0:1648,  y0:63,   cbX:2863, grid:popGrid, unit:1000, stops:bluesStops, norm:logNorm(233,344000), ticks:popMajorTicks, labels:null, minor:popMinorTicks},
  {key:'exp', id:'panel-exp', x0:143.4, y0:1348, cbX:1360, grid:exposureGrid, unit:1, stops:purplesStops, norm:linearNorm(0,394), ticks:expColorTicks, labels:expColorLabels},
  {key:'dea', id:'panel-dea', x0:1648,  y0:1348, cbX:2863, grid:deathsGrid, unit:1, stops:redsStops, norm:linearNorm(0,23), ticks:deathColorTicks, labels:deathColorTicks.map(String)}
];

const defs = mk('defs', {}, document.getElementById('figure'));

panelDefs.forEach(p => {
  const g = document.getElementById(p.id);
  const xS = lon => p.x0 + (lon-lonMin)/(lonMax-lonMin)*panelW;
  const yS = lat => p.y0 + (latMax-lat)/(latMax-latMin)*panelH;
  const clip = mk('clipPath', {id:'clip-'+p.key}, defs);
  mk('rect', {x:p.x0, y:p.y0, width:panelW, height:panelH}, clip);

  // heatmap cells
  const body = mk('g', {'clip-path':'url(#clip-'+p.key+')'}, g);
  
  
  const nRows = p.grid.length, nCols = p.grid[0].length;
  const dLon = (lonMax-lonMin)/(nCols-1), dLat = (latMax-latMin)/(nRows-1);
  p.grid.forEach((row, j) => {
    row.forEach((val, i) => {
      const lon = lonMin + i*dLon, lat = latMax - j*dLat;
      const x1 = xS(lon-dLon/2), x2 = xS(lon+dLon/2), y1 = yS(lat+dLat/2), y2 = yS(lat-dLat/2);
      const cell = mk('rect', {x:x1.toFixed(2), y:y1.toFixed(2), width:(x2-x1+.6).toFixed(2), height:(y2-y1+.6).toFixed(2), fill:cmap(p.stops, p.norm(val*p.unit))}, body);
      
      
    });
  });

  // boundaries
  boundaries.forEach(line => {
    const d = line.map((pt,k)=>(k?'L':'M')+xS(pt[0]).toFixed(1)+' '+yS(pt[1]).toFixed(1)).join('');
    const path = mk('path', {d:d, fill:'none', stroke:'#000', 'stroke-width':3, 'stroke-linejoin':'round', 'stroke-linecap':'round'}, body);
    
    
  });

  // station markers
  stationNames.forEach((name,i) => {
    const dot = mk('circle', {cx:xS(stationLons[i]).toFixed(1), cy:yS(stationLats[i]).toFixed(1), r:10.5, fill:'#000'}, body);
    
    
  });

  // gridlines
  lonTicks.forEach(lon => {
    const ln = mk('line', {x1:xS(lon), x2:xS(lon), y1:p.y0, y2:p.y0+panelH, stroke:'#808080', 'stroke-opacity':.5, 'stroke-width':1.8, 'stroke-dasharray':'6 3'}, body);
    
    
  });
  latTicks.forEach(lat => {
    const ln = mk('line', {x1:p.x0, x2:p.x0+panelW, y1:yS(lat), y2:yS(lat), stroke:'#808080', 'stroke-opacity':.5, 'stroke-width':1.8, 'stroke-dasharray':'6 3'}, body);
    
    
  });

  // station labels
  stationNames.forEach((name,i) => {
    const t = mk('text', {x:(xS(stationLons[i])+3).toFixed(1), y:(yS(stationLats[i])-3).toFixed(1), 'font-size':26.4, style:'fill:#111'}, g);
    t.textContent = name;
    
    
  });

  // region labels
  regionNames.forEach((name,i) => {
    const attrs = {x:xS(regionLons[i]).toFixed(1), y:yS(regionLats[i]).toFixed(1), 'font-size':32.5, 'font-weight':'bold', style:'fill:#ad0000'};
    if (i === 1){ attrs.textLength = 345; attrs.lengthAdjust = 'spacing'; }
    const t = mk('text', attrs, g);
    t.textContent = name;
    
    
  });

  // tick labels
  lonTicks.forEach(lon => {
    const t = mk('text', {class:'tick', x:xS(lon).toFixed(1), y:p.y0+panelH+39, 'text-anchor':'middle'}, g);
    t.textContent = lon.toFixed(1)+'°E';
    
    
  });
  latTicks.forEach((lat,i) => {
    const t = mk('text', {class:'tick', x:p.x0-17, y:(yS(lat)+10).toFixed(1), 'text-anchor':'end'}, g);
    t.textContent = latTickLabels[i];
    
    
  });

  // axes frame
  const frame = mk('rect', {x:p.x0, y:p.y0, width:panelW, height:panelH, fill:'none', stroke:'#222', 'stroke-width':2.6}, g);
  
  

  // colorbar
  const gradId = 'grad-'+p.key;
  const grad = mk('linearGradient', {id:gradId, x1:0, y1:1, x2:0, y2:0}, defs);
  for (let k = 0; k <= 64; k++){
    mk('stop', {offset:(k/64), 'stop-color':cmap(p.stops, k/64)}, grad);
  }
  const bar = mk('rect', {x:p.cbX, y:p.y0, width:cbW, height:panelH, fill:'url(#'+gradId+')', stroke:'#222', 'stroke-width':2.6}, g);
  
  
  const cbY = v => p.y0 + panelH*(1-p.norm(v));
  p.ticks.forEach((v,i) => {
    const y = cbY(v);
    const tk = mk('line', {x1:p.cbX+cbW, x2:p.cbX+cbW+11, y1:y, y2:y, stroke:'#222', 'stroke-width':2}, g);
    
    
    const t = mk('text', {class:'tick', x:p.cbX+cbW+23, y:(y+10.5).toFixed(1)}, g);
    if (p.labels){
      t.textContent = p.labels[i];
    } else {
      const base = mk('tspan', {}, t);
      base.textContent = '10';
      const sup = mk('tspan', {dy:-12, 'font-size':20}, t);
      sup.textContent = popMajorExponents[i];
    }
    
    
  });
  (p.minor||[]).forEach(v => {
    const y = cbY(v);
    const tk = mk('line', {x1:p.cbX+cbW, x2:p.cbX+cbW+6, y1:y, y2:y, stroke:'#222', 'stroke-width':1.4}, g);
    
    
  });
});
</script>
</body>
</html>
